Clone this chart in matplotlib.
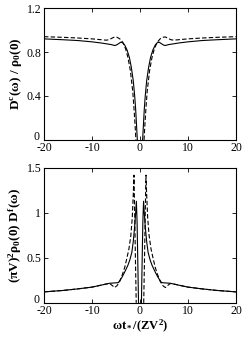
import numpy as np
import matplotlib
matplotlib.use("Agg")
import matplotlib.pyplot as plt
import matplotlib.transforms as mtransforms

plt.rcParams["font.family"] = ["Liberation Serif", "DejaVu Serif"]
plt.rcParams["mathtext.fontset"] = "custom"
plt.rcParams["mathtext.rm"] = "Liberation Serif:bold"
plt.rcParams["mathtext.it"] = "Liberation Serif:bold"
plt.rcParams["mathtext.bf"] = "Liberation Serif:bold"
plt.rcParams["axes.unicode_minus"] = False

# conduction-electron DOS, positive half (mirrored below)
top_solid_x = [0.55, 0.7, 0.9, 1.1, 1.4, 1.8, 2.2, 2.7, 3.2, 3.6, 4.0, 4.5, 5.0, 5.3, 6.0, 8.0, 10.0, 13.0, 16.0, 20.0]
top_solid_y = [0.0, 0.12, 0.28, 0.40, 0.54, 0.66, 0.75, 0.82, 0.865, 0.885, 0.89, 0.875, 0.862, 0.86, 0.868, 0.882, 0.893, 0.905, 0.912, 0.92]
top_dash_x = [0.85, 1.0, 1.2, 1.5, 2.0, 2.5, 3.0, 3.6, 4.2, 4.8, 5.3, 5.8, 6.4, 7.0, 8.0, 10.0, 13.0, 16.0, 20.0]
top_dash_y = [0.0, 0.12, 0.26, 0.44, 0.63, 0.75, 0.83, 0.89, 0.92, 0.935, 0.937, 0.927, 0.913, 0.908, 0.912, 0.92, 0.928, 0.934, 0.94]

# f-electron spectral function, positive half
bot_solid_x = [0.3, 0.45, 0.6, 0.75, 0.9, 1.1, 1.4, 1.7, 2.1, 2.5, 2.8, 3.3, 3.8, 4.5, 5.2, 6.3, 8.0, 10.0, 13.0, 16.0, 20.0]
bot_solid_y = [0.0, 0.45, 0.9, 1.13, 1.0, 0.85, 0.68, 0.56, 0.48, 0.42, 0.385, 0.33, 0.28, 0.225, 0.222, 0.218, 0.198, 0.175, 0.155, 0.138, 0.122]
bot_dash_x = [0.78, 0.95, 1.1, 1.25, 1.4, 1.6, 1.9, 2.3, 2.8, 3.2, 3.7, 4.2, 4.8, 5.3, 5.7, 6.3, 7.0, 8.0, 10.0, 13.0, 16.0, 20.0]
bot_dash_y = [0.0, 0.5, 1.0, 1.42, 1.2, 0.95, 0.75, 0.6, 0.48, 0.39, 0.31, 0.24, 0.19, 0.17, 0.19, 0.215, 0.21, 0.198, 0.175, 0.155, 0.138, 0.122]

x_ticks = [-20, -10, 0, 10, 20]
top_yticks = [0, 0.4, 0.8, 1.2]
top_ylabels = ["0", "0.4", "0.8", "1.2"]
bot_yticks = [0, 0.5, 1, 1.5]
bot_ylabels = ["0", "0.5", "1", "1.5"]


def mirror(xs, ys):
    xs = np.asarray(xs)
    ys = np.asarray(ys)
    return np.concatenate([-xs[::-1], [np.nan], xs]), np.concatenate([ys[::-1], [np.nan], ys])


fig = plt.figure(figsize=(2.43, 3.38), dpi=100)
ax1 = fig.add_axes([0.181, 0.586, 0.790, 0.390])
ax2 = fig.add_axes([0.181, 0.104, 0.790, 0.399])

for ax, sx, sy, dx, dy in [
    (ax1, top_solid_x, top_solid_y, top_dash_x, top_dash_y),
    (ax2, bot_solid_x, bot_solid_y, bot_dash_x, bot_dash_y),
]:
    mx, my = mirror(sx, sy)
    ax.plot(mx, my, color="black", lw=0.8)
    mx, my = mirror(dx, dy)
    ax.plot(mx, my, color="black", lw=0.8, ls=(0, (4, 2)))
    ax.set_xlim(-20, 20)
    ax.set_xticks(x_ticks)
    ax.tick_params(direction="in", top=True, right=True, length=3, width=0.6,
                   labelsize=8.5)
    ax.tick_params(axis="x", pad=1.5)
    ax.tick_params(axis="y", pad=2)
    for s in ax.spines.values():
        s.set_linewidth(0.8)

ax1.set_ylim(0, 1.2)
ax1.set_yticks(top_yticks)
ax1.set_yticklabels(top_ylabels)
ax1.set_ylabel(r"$\mathrm{D^c(\omega)\ /\ \rho_0(0)}$", fontsize=9.5, labelpad=2)

ax2.set_ylim(0, 1.5)
ax2.set_yticks(bot_yticks)
ax2.set_yticklabels(bot_ylabels)
ax2.set_ylabel(r"$\mathrm{(\pi V)^2\rho_0(0)\ D^f(\omega)}$", fontsize=9.5, labelpad=2)
ax2.set_xlabel(r"$\mathrm{\omega t_*/(ZV^2)}$", fontsize=9, labelpad=1)

# nudge the "0" labels up a little so they clear the "-20" below
lift = mtransforms.ScaledTranslation(-1 / 72, 3 / 72, fig.dpi_scale_trans)
for ax in (ax1, ax2):
    lab = ax.get_yticklabels()[0]
    lab.set_transform(lab.get_transform() + lift)

fig.savefig("out.png", dpi=100)
